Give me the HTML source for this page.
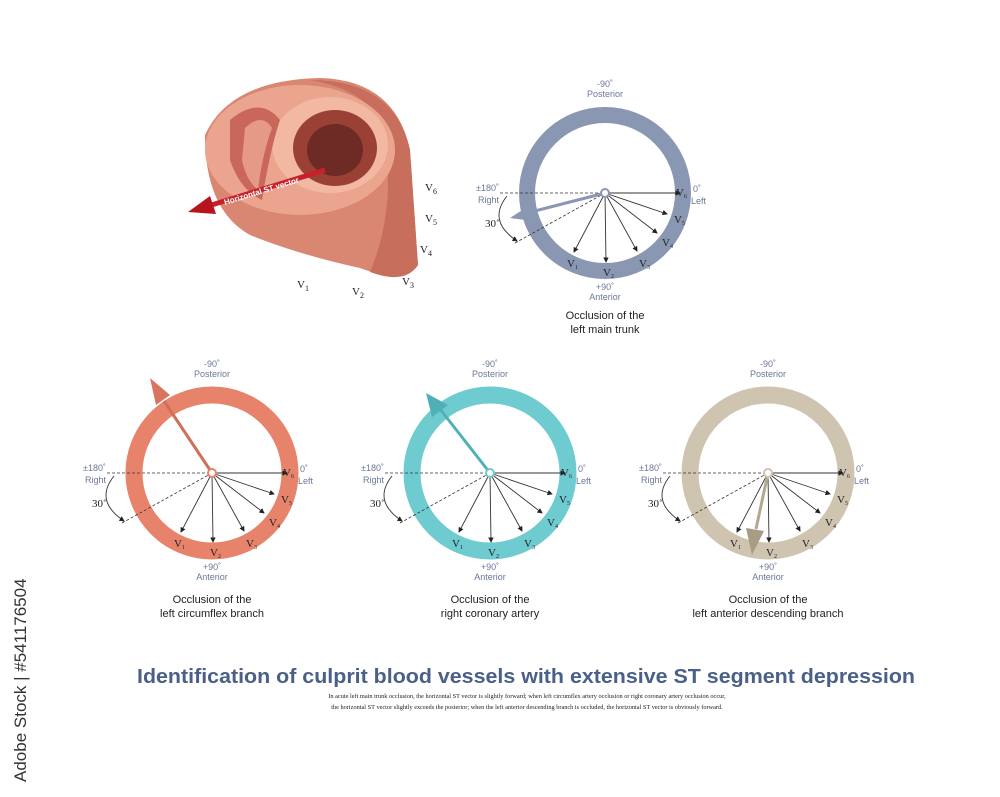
<!DOCTYPE html>
<html><head><meta charset="utf-8"><style>
html,body{margin:0;padding:0;background:#fff;}
svg{display:block;}
.lbl{font-family:"Liberation Sans",sans-serif;font-size:9px;fill:#6a7797;}
.v{font-family:"Liberation Serif",serif;font-size:11px;fill:#222;}
.cap{font-family:"Liberation Sans",sans-serif;font-size:11px;fill:#222;}
</style></head><body>
<svg width="1000" height="797" viewBox="0 0 1000 797" xmlns="http://www.w3.org/2000/svg">
<defs>
<marker id="ah" markerWidth="6" markerHeight="6" refX="5" refY="3" orient="auto"><path d="M0,0 L6,3 L0,6 z" fill="#222"/></marker>
<g id="rays">
<line x1="0" y1="0" x2="75" y2="0" stroke="#333" stroke-width="0.9" marker-end="url(#ah)"/>
<line x1="0" y1="0" x2="62" y2="21" stroke="#333" stroke-width="0.9" marker-end="url(#ah)"/>
<line x1="0" y1="0" x2="52" y2="40" stroke="#333" stroke-width="0.9" marker-end="url(#ah)"/>
<line x1="0" y1="0" x2="32" y2="58" stroke="#333" stroke-width="0.9" marker-end="url(#ah)"/>
<line x1="0" y1="0" x2="1" y2="69" stroke="#333" stroke-width="0.9" marker-end="url(#ah)"/>
<line x1="0" y1="0" x2="-31" y2="59" stroke="#333" stroke-width="0.9" marker-end="url(#ah)"/>
<line x1="-105" y1="0" x2="0" y2="0" stroke="#333" stroke-width="0.8" stroke-dasharray="3,2"/>
<line x1="0" y1="0" x2="-90" y2="50" stroke="#333" stroke-width="0.8" stroke-dasharray="3,2"/>
<path d="M-98,3 Q-118,28 -88,48" fill="none" stroke="#333" stroke-width="0.9" marker-end="url(#ah)"/>
</g>
</defs>

<!-- Heart illustration -->
<g>
<path d="M205,135 Q230,80 320,78 Q395,80 410,150 L418,265 Q405,285 360,268 Q300,255 250,235 Q205,210 205,135 z" fill="#d98672"/>
<path d="M310,80 Q395,80 410,150 L418,265 Q405,285 370,272 Q400,200 380,120 Q360,88 310,80 z" fill="#c76f5c"/>
<ellipse cx="300" cy="150" rx="95" ry="65" fill="#eba48e"/>
<ellipse cx="330" cy="145" rx="58" ry="48" fill="#f2b8a2"/>
<ellipse cx="335" cy="148" rx="42" ry="38" fill="#9a4035"/>
<ellipse cx="335" cy="150" rx="28" ry="26" fill="#6e2a24"/>
<path d="M230,120 Q260,95 280,120 Q270,150 262,200 Q240,190 230,160 z" fill="#c9685a"/>
<path d="M245,128 Q262,112 272,128 Q262,155 258,190 Q246,180 242,160 z" fill="#e69a85"/>
<line x1="325" y1="170" x2="205" y2="207" stroke="#c8202a" stroke-width="5"/>
<path d="M188,212 L210,196 L216,214 z" fill="#b8141e"/>
<text x="225" y="205" transform="rotate(-17 225 205)" font-family="Liberation Sans,sans-serif" font-size="8" font-weight="bold" fill="#fff">Horizontal ST vector</text>
<text class="v" x="425" y="191" font-size="13">V<tspan font-size="8" dy="3">6</tspan></text>
<text class="v" x="425" y="222" font-size="13">V<tspan font-size="8" dy="3">5</tspan></text>
<text class="v" x="420" y="253" font-size="13">V<tspan font-size="8" dy="3">4</tspan></text>
<text class="v" x="402" y="285" font-size="13">V<tspan font-size="8" dy="3">3</tspan></text>
<text class="v" x="352" y="295" font-size="13">V<tspan font-size="8" dy="3">2</tspan></text>
<text class="v" x="297" y="288" font-size="13">V<tspan font-size="8" dy="3">1</tspan></text>
</g>

<!-- Diagram template usage -->
<!-- Top right -->
<g transform="translate(605,193)">
<circle r="78" fill="none" stroke="#8a97b3" stroke-width="16"/>
<use href="#rays"/>
<line x1="0" y1="0" x2="-78" y2="20" stroke="#8a97b3" stroke-width="3"/>
<path d="M-95,25 L-75,12 L-72,28 z" fill="#8a97b3"/>
<circle r="4" fill="#fff" stroke="#8a97b3" stroke-width="2"/>
<text class="lbl" x="0" y="-106" text-anchor="middle">-90˚</text>
<text class="lbl" x="0" y="-96" text-anchor="middle">Posterior</text>
<text class="lbl" x="0" y="97" text-anchor="middle">+90˚</text>
<text class="lbl" x="0" y="107" text-anchor="middle">Anterior</text>
<text class="lbl" x="-106" y="-2" text-anchor="end">±180˚</text>
<text class="lbl" x="-106" y="10" text-anchor="end">Right</text>
<text class="lbl" x="88" y="-1">0˚</text>
<text class="lbl" x="86" y="11">Left</text>
<text class="v" x="-120" y="34">30˚</text>
<text class="v" x="-38" y="74" font-size="10">V<tspan font-size="6" dy="2">1</tspan></text>
<text class="v" x="-2" y="83" font-size="10">V<tspan font-size="6" dy="2">2</tspan></text>
<text class="v" x="34" y="74" font-size="10">V<tspan font-size="6" dy="2">3</tspan></text>
<text class="v" x="57" y="53" font-size="10">V<tspan font-size="6" dy="2">4</tspan></text>
<text class="v" x="69" y="30" font-size="10">V<tspan font-size="6" dy="2">5</tspan></text>
<text class="v" x="71" y="3" font-size="10">V<tspan font-size="6" dy="2">6</tspan></text>
<text class="cap" x="0" y="126" text-anchor="middle">Occlusion of the</text>
<text class="cap" x="0" y="140" text-anchor="middle">left main trunk</text>
</g>

<!-- Bottom left -->
<g transform="translate(212,473)">
<circle r="78" fill="none" stroke="#e8836b" stroke-width="17"/>
<use href="#rays"/>
<line x1="0" y1="0" x2="-48" y2="-72" stroke="#d0705a" stroke-width="3"/>
<path d="M-62,-95 L-56,-68 L-42,-78 z" fill="#d87460"/>
<circle r="4" fill="#fff" stroke="#e8836b" stroke-width="2"/>
<text class="lbl" x="0" y="-106" text-anchor="middle">-90˚</text>
<text class="lbl" x="0" y="-96" text-anchor="middle">Posterior</text>
<text class="lbl" x="0" y="97" text-anchor="middle">+90˚</text>
<text class="lbl" x="0" y="107" text-anchor="middle">Anterior</text>
<text class="lbl" x="-106" y="-2" text-anchor="end">±180˚</text>
<text class="lbl" x="-106" y="10" text-anchor="end">Right</text>
<text class="lbl" x="88" y="-1">0˚</text>
<text class="lbl" x="86" y="11">Left</text>
<text class="v" x="-120" y="34">30˚</text>
<text class="v" x="-38" y="74" font-size="10">V<tspan font-size="6" dy="2">1</tspan></text>
<text class="v" x="-2" y="83" font-size="10">V<tspan font-size="6" dy="2">2</tspan></text>
<text class="v" x="34" y="74" font-size="10">V<tspan font-size="6" dy="2">3</tspan></text>
<text class="v" x="57" y="53" font-size="10">V<tspan font-size="6" dy="2">4</tspan></text>
<text class="v" x="69" y="30" font-size="10">V<tspan font-size="6" dy="2">5</tspan></text>
<text class="v" x="71" y="3" font-size="10">V<tspan font-size="6" dy="2">6</tspan></text>
<text class="cap" x="0" y="130" text-anchor="middle">Occlusion of the</text>
<text class="cap" x="0" y="144" text-anchor="middle">left circumflex branch</text>
</g>

<!-- Bottom middle -->
<g transform="translate(490,473)">
<circle r="78" fill="none" stroke="#6ecbcf" stroke-width="17"/>
<use href="#rays"/>
<line x1="0" y1="0" x2="-50" y2="-64" stroke="#4fb1b6" stroke-width="3"/>
<path d="M-64,-80 L-58,-56 L-42,-68 z" fill="#4fb1b6"/>
<circle r="4" fill="#fff" stroke="#6ecbcf" stroke-width="2"/>
<text class="lbl" x="0" y="-106" text-anchor="middle">-90˚</text>
<text class="lbl" x="0" y="-96" text-anchor="middle">Posterior</text>
<text class="lbl" x="0" y="97" text-anchor="middle">+90˚</text>
<text class="lbl" x="0" y="107" text-anchor="middle">Anterior</text>
<text class="lbl" x="-106" y="-2" text-anchor="end">±180˚</text>
<text class="lbl" x="-106" y="10" text-anchor="end">Right</text>
<text class="lbl" x="88" y="-1">0˚</text>
<text class="lbl" x="86" y="11">Left</text>
<text class="v" x="-120" y="34">30˚</text>
<text class="v" x="-38" y="74" font-size="10">V<tspan font-size="6" dy="2">1</tspan></text>
<text class="v" x="-2" y="83" font-size="10">V<tspan font-size="6" dy="2">2</tspan></text>
<text class="v" x="34" y="74" font-size="10">V<tspan font-size="6" dy="2">3</tspan></text>
<text class="v" x="57" y="53" font-size="10">V<tspan font-size="6" dy="2">4</tspan></text>
<text class="v" x="69" y="30" font-size="10">V<tspan font-size="6" dy="2">5</tspan></text>
<text class="v" x="71" y="3" font-size="10">V<tspan font-size="6" dy="2">6</tspan></text>
<text class="cap" x="0" y="130" text-anchor="middle">Occlusion of the</text>
<text class="cap" x="0" y="144" text-anchor="middle">right coronary artery</text>
</g>

<!-- Bottom right -->
<g transform="translate(768,473)">
<circle r="78" fill="none" stroke="#cfc4b0" stroke-width="17"/>
<use href="#rays"/>
<line x1="0" y1="0" x2="-12" y2="56" stroke="#b5a88f" stroke-width="3"/>
<path d="M-16,82 L-22,55 L-4,58 z" fill="#a99c84"/>
<circle r="4" fill="#fff" stroke="#cfc4b0" stroke-width="2"/>
<text class="lbl" x="0" y="-106" text-anchor="middle">-90˚</text>
<text class="lbl" x="0" y="-96" text-anchor="middle">Posterior</text>
<text class="lbl" x="0" y="97" text-anchor="middle">+90˚</text>
<text class="lbl" x="0" y="107" text-anchor="middle">Anterior</text>
<text class="lbl" x="-106" y="-2" text-anchor="end">±180˚</text>
<text class="lbl" x="-106" y="10" text-anchor="end">Right</text>
<text class="lbl" x="88" y="-1">0˚</text>
<text class="lbl" x="86" y="11">Left</text>
<text class="v" x="-120" y="34">30˚</text>
<text class="v" x="-38" y="74" font-size="10">V<tspan font-size="6" dy="2">1</tspan></text>
<text class="v" x="-2" y="83" font-size="10">V<tspan font-size="6" dy="2">2</tspan></text>
<text class="v" x="34" y="74" font-size="10">V<tspan font-size="6" dy="2">3</tspan></text>
<text class="v" x="57" y="53" font-size="10">V<tspan font-size="6" dy="2">4</tspan></text>
<text class="v" x="69" y="30" font-size="10">V<tspan font-size="6" dy="2">5</tspan></text>
<text class="v" x="71" y="3" font-size="10">V<tspan font-size="6" dy="2">6</tspan></text>
<text class="cap" x="0" y="130" text-anchor="middle">Occlusion of the</text>
<text class="cap" x="0" y="144" text-anchor="middle">left anterior descending branch</text>
</g>

<text x="137" y="683" textLength="778" lengthAdjust="spacingAndGlyphs" font-family="Liberation Sans,sans-serif" font-size="20" font-weight="bold" fill="#4a6088">Identification of culprit blood vessels with extensive ST segment depression</text>
<text x="527" y="698" text-anchor="middle" font-family="Liberation Serif,serif" font-size="6.3" fill="#222">In acute left main trunk occlusion, the horizontal ST vector is slightly forward; when left circumflex artery occlusion or right coronary artery occlusion occur,</text>
<text x="527" y="709" text-anchor="middle" font-family="Liberation Serif,serif" font-size="6.3" fill="#222">the horizontal ST vector  slightly exceeds the posterior; when the left anterior descending branch is occluded, the horizontal ST vector  is obviously forward.</text>

<text transform="translate(26,782) rotate(-90)" font-family="Liberation Sans,sans-serif" font-size="17" fill="#333">Adobe Stock | #541176504</text>
</svg>
</body></html>
